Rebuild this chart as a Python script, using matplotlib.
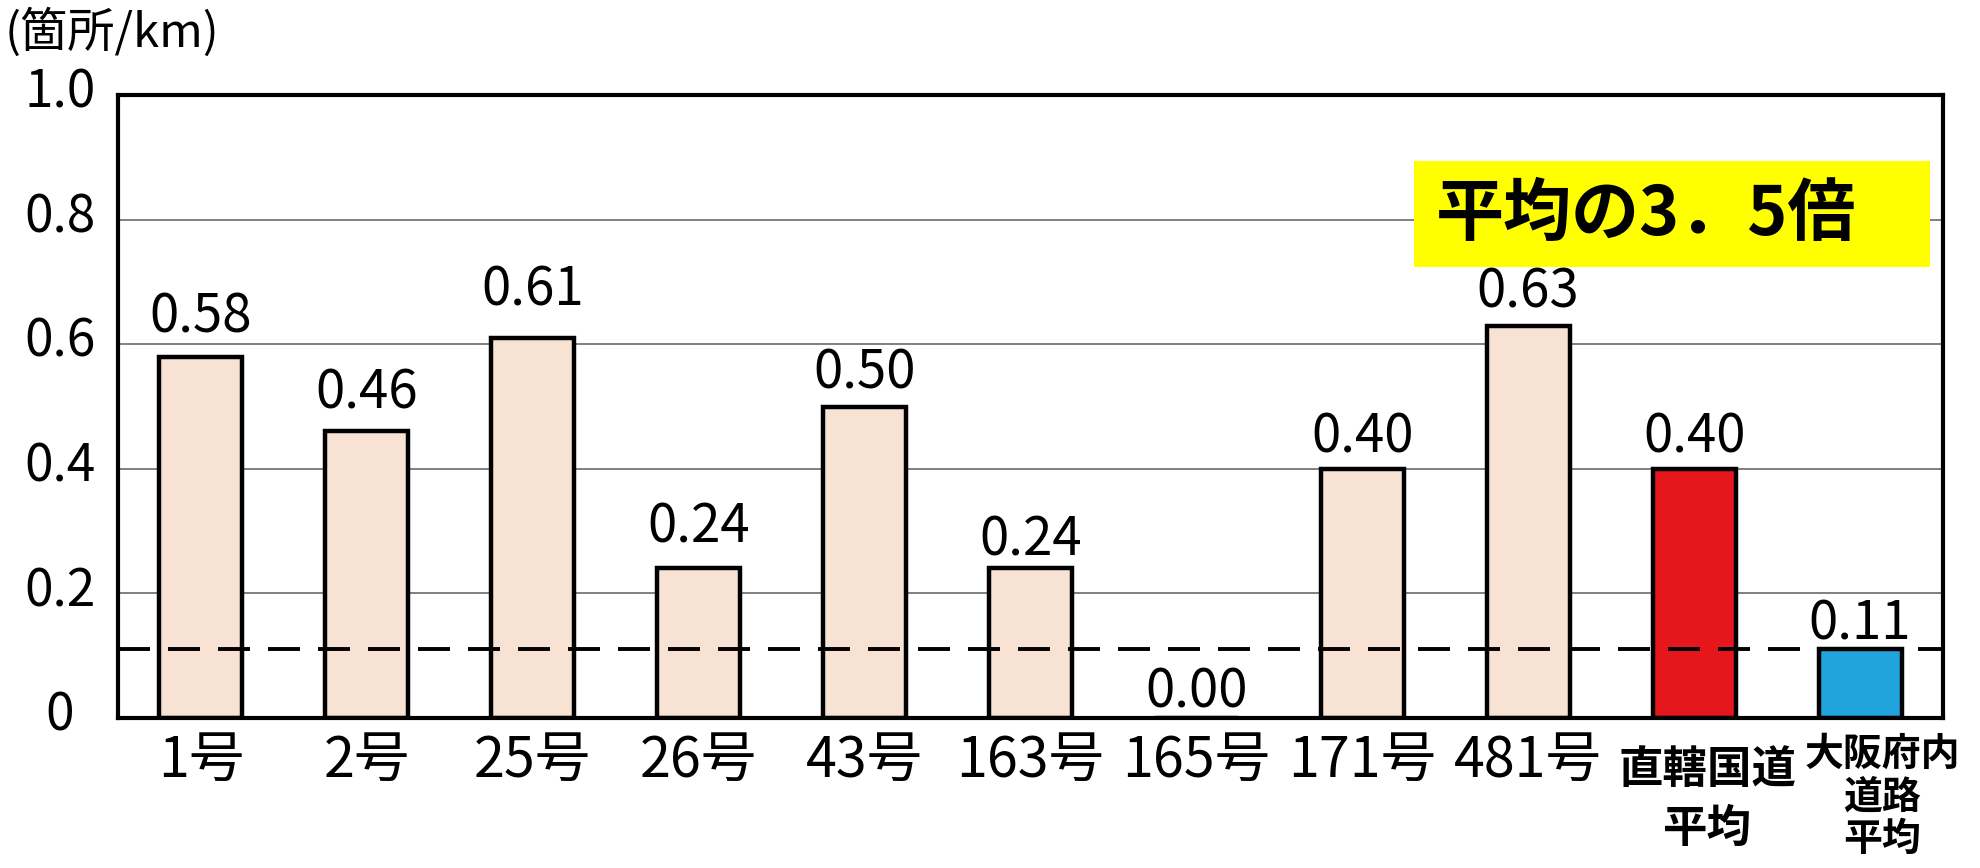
import numpy as np
import matplotlib.pyplot as plt
from matplotlib.patches import Rectangle
from matplotlib.transforms import ScaledTranslation

plt.rcParams['font.family'] = ['Noto Sans CJK JP', 'DejaVu Sans']

# data
roads = ['1号', '2号', '25号', '26号', '43号', '163号', '165号', '171号', '481号',
         '直轄国道\n平均', '大阪府内\n道路\n平均']
rate = [0.58, 0.46, 0.61, 0.24, 0.50, 0.24, 0.00, 0.40, 0.63, 0.40, 0.11]
pref_avg = 0.11
note = '平均の3．5倍'
yticks = [0, 0.2, 0.4, 0.6, 0.8, 1.0]
ytick_labels = ['0', '0.2', '0.4', '0.6', '0.8', '1.0']

colors = ['#F8E2D4'] * 9 + ['#E5161C', '#21A4DB']
label_gap = [24, 23, 32, 26, 18, 13, 10, 16, 18, 16, 10]  # px between bar top and value

fig = plt.figure(figsize=(19.81, 8.68), dpi=100)
ax = fig.add_axes([118 / 1981, 1 - 718 / 868, (1943 - 118) / 1981, (718 - 95) / 868])

x = np.arange(len(roads))
ax.bar(x, rate, width=0.5, color=colors, edgecolor='black', linewidth=3.2, zorder=2)
ax.set_xlim(-0.5, len(roads) - 0.5)
ax.set_ylim(0, 1.0)

ax.yaxis.grid(True, color='#808080', linewidth=1.4)
ax.set_axisbelow(True)
for s in ax.spines.values():
    s.set_linewidth(3.0)

# dashed line for prefecture average
lw = 2.8
ax.axhline(pref_avg, color='black', linewidth=lw, dashes=(32 * 0.72 / lw, 18 * 0.72 / lw), zorder=3)

# value labels
for xi, v, g in zip(x, rate, label_gap):
    ax.annotate(f'{v:.2f}', (xi, v), xytext=(0, g * 0.72), textcoords='offset points',
                ha='center', va='baseline', fontsize=38, zorder=4)

# yellow note box
ax.add_patch(Rectangle((7.31, 0.724), 3.11, 0.17, facecolor='#FFFF00', edgecolor='none', zorder=2.5))
ax.text(8.71, 0.807, note, ha='center', va='center', fontsize=49, fontweight='bold', zorder=4)

fig.text(5 / 1981, 1 - 8 / 868, '(箇所/km)', fontsize=34, va='top', ha='left')

ax.set_yticks(yticks)
ax.set_yticklabels(ytick_labels)
ax.set_xticks(x)
ax.set_xticklabels(roads)
ax.tick_params(length=0)
ax.tick_params(axis='y', labelsize=37, pad=42)
ax.tick_params(axis='x', labelsize=40, pad=10)

up = ScaledTranslation(0, 8 / 100, fig.dpi_scale_trans)
for lab in ax.get_yticklabels():
    lab.set_ha('center')
    lab.set_transform(lab.get_transform() + up)

xl = ax.get_xticklabels()
xl[9].set_fontweight('bold')
xl[9].set_fontsize(32)
xl[9].set_linespacing(1.35)
xl[9].set_transform(xl[9].get_transform() + ScaledTranslation(13 / 100, -15 / 100, fig.dpi_scale_trans))
xl[10].set_fontweight('bold')
xl[10].set_fontsize(28)
xl[10].set_linespacing(1.12)
xl[10].set_transform(xl[10].get_transform() + ScaledTranslation(22 / 100, -3 / 100, fig.dpi_scale_trans))

fig.savefig('out.png', dpi=100)
